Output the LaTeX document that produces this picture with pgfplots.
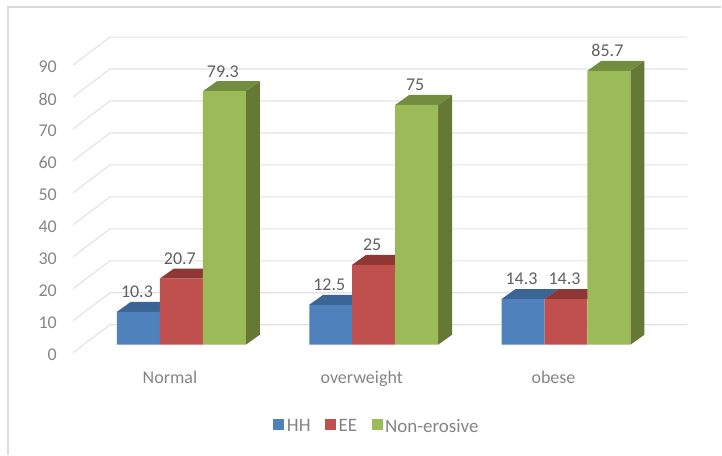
\documentclass[border=0pt]{standalone}
\usepackage{fontspec}
\setmainfont{Carlito}
\usepackage{pgfplots}
\pgfplotsset{compat=1.18}
\definecolor{axtext}{HTML}{858585}
\definecolor{dltext}{HTML}{606060}
\definecolor{gridc}{HTML}{E2E2E2}
\definecolor{framec}{HTML}{DADADA}
\definecolor{hhf}{HTML}{4F81BD}\definecolor{hht}{HTML}{3C6494}
\definecolor{eef}{HTML}{C0504D}\definecolor{eet}{HTML}{8F3735}
\definecolor{nef}{HTML}{9BBB59}\definecolor{net}{HTML}{728C40}\definecolor{nes}{HTML}{657836}
\pgfplotsset{
  /pgf/number format/assume math mode=true,
  gridl/.style={draw=gridc,line width=1.1pt,forget plot},
  face/.style={fill=#1,draw=none,forget plot},
  frontbar/.style={ybar,bar width=43pt,bar shift=0pt,fill=#1,draw=none,
    legend image code/.code={\fill[#1] (0pt,-3pt) rectangle (11pt,8pt);\path (12pt,0pt);},
    nodes near coords,
    every node near coord/.append style={anchor=center,yshift=20pt,xshift=-1.5pt,
      font=\fontsize{18}{20}\selectfont,text=dltext,inner sep=0pt}},
}
\begin{document}
\begin{tikzpicture}
\begin{axis}[
  scale only axis,width=722pt,height=455pt,
  xmin=0,xmax=722,ymin=-34.375,ymax=107.8125,
  clip=false,
  axis line style={draw=none},
  major tick length=0pt,
  xtick={170,362,554},
  xticklabels={Normal,overweight,obese},
  ytick={0,10,20,30,40,50,60,70,80,90},
  tick label style={font=\fontsize{18}{20}\selectfont,text=axtext},
  yticklabel style={inner sep=0pt,xshift=57pt,yshift=-10pt},
  xticklabel style={inner sep=0pt,text height=12pt,text depth=4pt,yshift=83pt},
  legend columns=3,
  legend cell align=left,
  legend style={draw=none,fill=none,at={(0.5222,0.0615)},anchor=center,
    font=\fontsize{19}{21}\selectfont,text=axtext,
    nodes={inner sep=1.5pt},
    /tikz/every even column/.append style={column sep=13pt}},
]
% chart frame
\addplot[draw=framec,line width=1.4pt,forget plot] coordinates {(8,-34.375) (8,105.625) (722,105.625)};
% floor and wall grid
\addplot[gridl] coordinates {(73,-2.5) (110,6.25) (688,6.25)};
\addplot[gridl] coordinates {(73,7.5) (110,16.25) (688,16.25)};
\addplot[gridl] coordinates {(73,17.5) (110,26.25) (688,26.25)};
\addplot[gridl] coordinates {(73,27.5) (110,36.25) (688,36.25)};
\addplot[gridl] coordinates {(73,37.5) (110,46.25) (688,46.25)};
\addplot[gridl] coordinates {(73,47.5) (110,56.25) (688,56.25)};
\addplot[gridl] coordinates {(73,57.5) (110,66.25) (688,66.25)};
\addplot[gridl] coordinates {(73,67.5) (110,76.25) (688,76.25)};
\addplot[gridl] coordinates {(73,77.5) (110,86.25) (688,86.25)};
\addplot[gridl] coordinates {(73,87.5) (110,96.25) (688,96.25)};
% HH tops
\addplot[face=hht] coordinates {(117,10.3) (131,13.425) (174,13.425) (160,10.3)};
\addplot[face=hht] coordinates {(309.5,12.5) (323.5,15.625) (366.5,15.625) (352.5,12.5)};
\addplot[face=hht] coordinates {(502,14.3) (516,17.425) (559,17.425) (545,14.3)};
% EE tops
\addplot[face=eet] coordinates {(160,20.7) (174,23.825) (217,23.825) (203,20.7)};
\addplot[face=eet] coordinates {(352.5,25) (366.5,28.125) (409.5,28.125) (395.5,25)};
\addplot[face=eet] coordinates {(545,14.3) (559,17.425) (602,17.425) (588,14.3)};
% Non-erosive sides and tops
\addplot[face=nes] coordinates {(246,0) (260,3.125) (260,82.425) (246,79.3)};
\addplot[face=net] coordinates {(203,79.3) (217,82.425) (260,82.425) (246,79.3)};
\addplot[face=nes] coordinates {(438.5,0) (452.5,3.125) (452.5,78.125) (438.5,75)};
\addplot[face=net] coordinates {(395.5,75) (409.5,78.125) (452.5,78.125) (438.5,75)};
\addplot[face=nes] coordinates {(631,0) (645,3.125) (645,88.825) (631,85.7)};
\addplot[face=net] coordinates {(588,85.7) (602,88.825) (645,88.825) (631,85.7)};
% fronts
\addplot[frontbar=hhf] coordinates {(138.5,10.3) (331,12.5) (523.5,14.3)};
\addlegendentry{HH}
\addplot[frontbar=eef] coordinates {(181.5,20.7) (374,25) (566.5,14.3)};
\addlegendentry{EE\hspace{2pt}}
\addplot[frontbar=nef] coordinates {(224.5,79.3) (417,75) (609.5,85.7)};
\addlegendentry{Non-erosive}
\end{axis}
\end{tikzpicture}
\end{document}
